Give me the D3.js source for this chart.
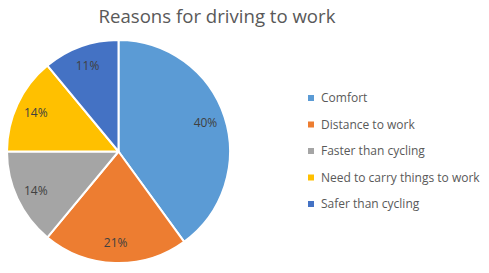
<!DOCTYPE html>
<html>
<head>
<meta charset="utf-8">
<script src="https://cdn.jsdelivr.net/npm/d3@7"></script>
<style>
  body { margin: 0; background: #fff; }
  svg { display: block; font-family: "Open Sans", "Liberation Sans", sans-serif; }
</style>
</head>
<body>
<div id="chart"></div>
<script>
// dados
const categories = ["Comfort", "Distance to work", "Faster than cycling", "Need to carry things to work", "Safer than cycling"];
const values = [40, 21, 14, 14, 11];
const colors = ["#5B9BD5", "#ED7D31", "#A5A5A5", "#FFC000", "#4472C4"];

const width = 489;
const height = 273;
const radius = 111.5;
const cx = 118.5, cy = 151.5;

const svg = d3.select("#chart")
  .append("svg")
  .attr("width", width)
  .attr("height", height);

// título
svg.append("text")
  .attr("x", 217)
  .attr("y", 23)
  .attr("text-anchor", "middle")
  .attr("font-size", 18.6)
  .attr("fill", "#595959")
  .text("Reasons for driving to work");

const pie = d3.pie().sort(null).value((d) => d);
const arcs = pie(values);

const arc = d3.arc().innerRadius(0).outerRadius(radius);
const labelArc = d3.arc().innerRadius(radius * 0.82).outerRadius(radius * 0.82);

const g = svg.append("g").attr("transform", `translate(${cx},${cy})`);

g.selectAll("path")
  .data(arcs)
  .enter()
  .append("path")
  .attr("d", arc)
  .attr("fill", (d, i) => colors[i])
  .attr("stroke", "#fff")
  .attr("stroke-width", 2)
  .attr("stroke-linejoin", "round");

// rótulos de porcentagem
g.selectAll(".label")
  .data(arcs)
  .enter()
  .append("text")
  .attr("class", "label")
  .attr("transform", (d) => `translate(${labelArc.centroid(d)})`)
  .attr("text-anchor", "middle")
  .attr("dy", "0.35em")
  .attr("font-size", 12)
  .attr("fill", "#404040")
  .text((d) => d.data + "%");

// legenda
const legend = svg.append("g").attr("transform", "translate(308, 98)");
const item = legend.selectAll(".item")
  .data(categories)
  .enter()
  .append("g")
  .attr("class", "item")
  .attr("transform", (d, i) => `translate(0, ${i * 26.5})`);

item.append("rect")
  .attr("x", 0)
  .attr("y", -3)
  .attr("width", 6)
  .attr("height", 6)
  .attr("fill", (d, i) => colors[i]);

item.append("text")
  .attr("x", 13)
  .attr("dy", "0.35em")
  .attr("font-size", 12)
  .attr("fill", "#595959")
  .text((d) => d);
</script>
</body>
</html>
